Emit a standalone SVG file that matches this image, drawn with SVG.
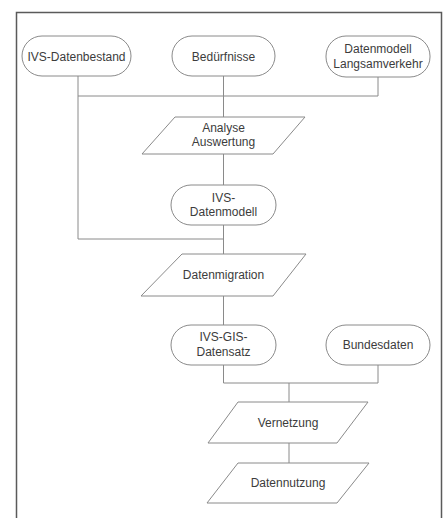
<svg xmlns="http://www.w3.org/2000/svg" width="444" height="518" viewBox="0 0 444 518">
  <style>
    .node { fill: #ffffff; stroke: #8a8a8a; stroke-width: 1; }
    .conn { fill: none; stroke: #8a8a8a; stroke-width: 1; }
    .frame { fill: none; stroke: #5a5a5a; stroke-width: 1.5; }
    text { font-family: "Liberation Sans", Arial, sans-serif; font-size: 12px; fill: #3c3c3c; text-anchor: middle; }
  </style>
  <rect x="0" y="0" width="444" height="518" fill="#ffffff"/>
  <!-- outer frame, open at the bottom -->
  <path class="frame" d="M16.5,520 V12.5 H441.5 V520"/>

  <g id="connectors">
    <path class="conn" d="M78,76 V239 H223.5"/>
    <path class="conn" d="M78,96 H378"/>
    <path class="conn" d="M223.5,76 V117"/>
    <path class="conn" d="M378,77 V96"/>
    <path class="conn" d="M223.5,154 V185"/>
    <path class="conn" d="M223.5,225 V254"/>
    <path class="conn" d="M223.5,296 V325"/>
    <path class="conn" d="M223.5,365 V383 H378 V365"/>
    <path class="conn" d="M289,383 V402"/>
    <path class="conn" d="M289,443 V463"/>
  </g>

  <g id="ivs-datenbestand">
    <rect class="node" x="22" y="36" width="109" height="40" rx="20"/>
    <text x="76.5" y="60.5">IVS-Datenbestand</text>
  </g>
  <g id="beduerfnisse">
    <rect class="node" x="172" y="36" width="103" height="40" rx="20"/>
    <text x="223.5" y="60.5">Bedürfnisse</text>
  </g>
  <g id="datenmodell-langsamverkehr">
    <rect class="node" x="326" y="36" width="104" height="41" rx="20"/>
    <text x="378" y="53">Datenmodell</text>
    <text x="378" y="67.5">Langsamverkehr</text>
  </g>
  <g id="analyse-auswertung">
    <polygon class="node" points="175,117 305,117 273,154 142,154"/>
    <text x="223.5" y="132">Analyse</text>
    <text x="223.5" y="146">Auswertung</text>
  </g>
  <g id="ivs-datenmodell">
    <rect class="node" x="171" y="185" width="105" height="40" rx="20"/>
    <text x="223.5" y="202">IVS-</text>
    <text x="223.5" y="216">Datenmodell</text>
  </g>
  <g id="datenmigration">
    <polygon class="node" points="182,254 306,254 273,296 141,296"/>
    <text x="223.5" y="279">Datenmigration</text>
  </g>
  <g id="ivs-gis-datensatz">
    <rect class="node" x="171" y="325" width="105" height="40" rx="20"/>
    <text x="223.5" y="341">IVS-GIS-</text>
    <text x="223.5" y="355.5">Datensatz</text>
  </g>
  <g id="bundesdaten">
    <rect class="node" x="326" y="325" width="104" height="40" rx="20"/>
    <text x="378" y="349">Bundesdaten</text>
  </g>
  <g id="vernetzung">
    <polygon class="node" points="238,402 368,402 337,443 208,443"/>
    <text x="288" y="426.5">Vernetzung</text>
  </g>
  <g id="datennutzung">
    <polygon class="node" points="238,463 369,463 337,503 207,503"/>
    <text x="288" y="487">Datennutzung</text>
  </g>
</svg>
